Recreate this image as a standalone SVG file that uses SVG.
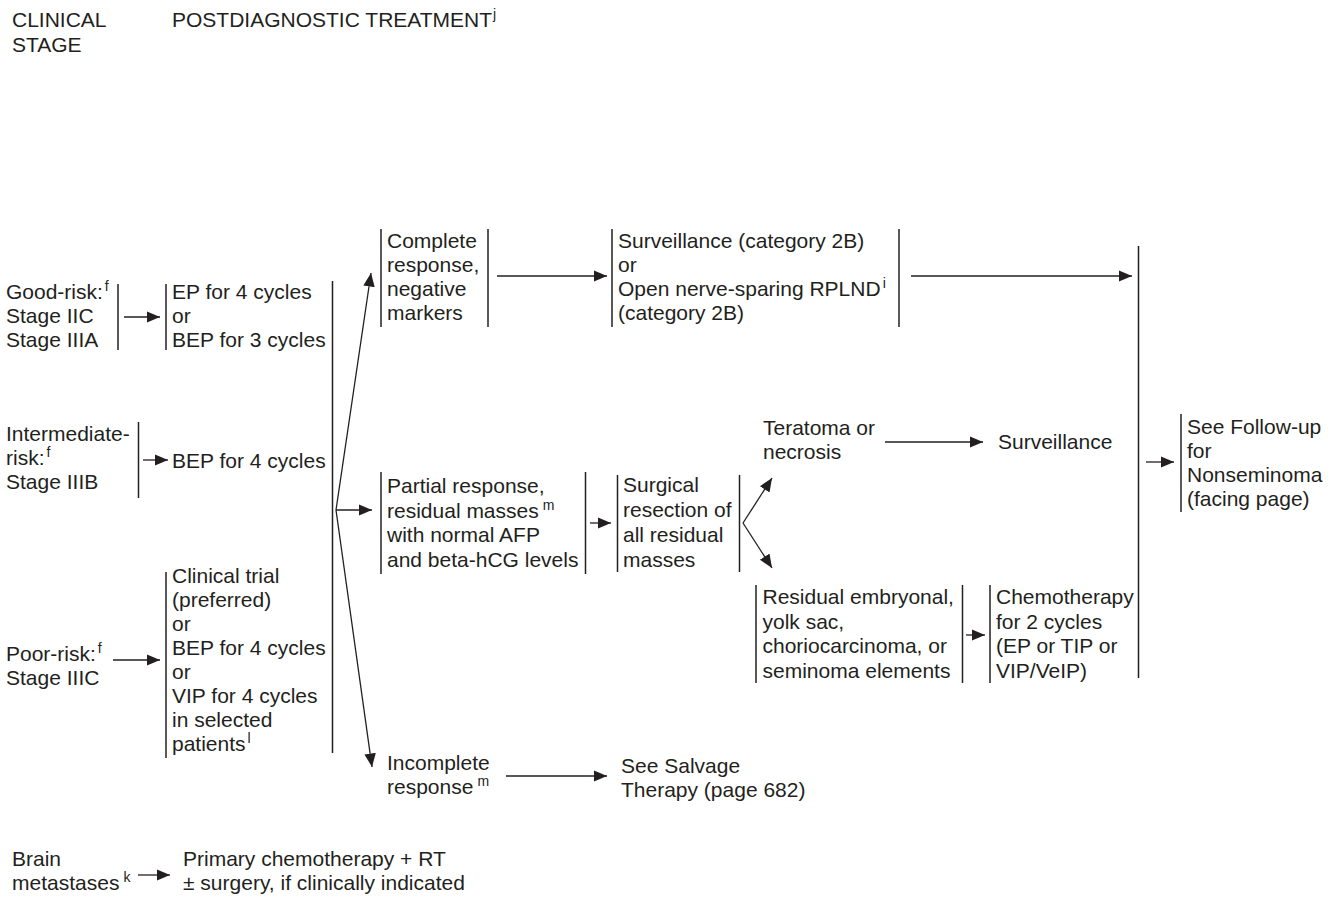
<svg xmlns="http://www.w3.org/2000/svg" width="1338" height="922" viewBox="0 0 1338 922">
<style>
text{font-family:"Liberation Sans",Arial,Helvetica,sans-serif;font-size:21px;fill:#231f20}
.sup{font-size:14px}
.bar{stroke:#231f20;stroke-width:1.5;fill:none}
.con line,.con polyline{stroke:#231f20;stroke-width:1.3;fill:none}
.arr{marker-end:url(#ah)}
</style>
<defs>
<marker id="ah" markerUnits="userSpaceOnUse" markerWidth="15" markerHeight="13" refX="13.5" refY="5.75" orient="auto">
<path d="M0,0 L13.5,5.75 L0,11.5 z" fill="#231f20"/>
</marker>
</defs>
<rect width="1338" height="922" fill="#fff"/>

<g id="header-stage"><text x="12" y="26.5">CLINICAL</text><text x="12" y="51.5">STAGE</text></g>
<g id="header-treatment"><text x="172" y="26.5">POSTDIAGNOSTIC TREATMENT<tspan class="sup" dx="1" dy="-8">j</tspan></text></g>

<g id="good-risk">
<text x="6" y="299">Good-risk:<tspan class="sup" dx="2" dy="-8">f</tspan></text>
<text x="6" y="323">Stage IIC</text>
<text x="6" y="347">Stage IIIA</text>
<line class="bar" x1="118" y1="284" x2="118" y2="350"/>
</g>
<g id="good-treatment">
<line class="bar" x1="166" y1="284" x2="166" y2="350"/>
<text x="172" y="299">EP for 4 cycles</text>
<text x="172" y="323">or</text>
<text x="172" y="347">BEP for 3 cycles</text>
</g>

<g id="intermediate-risk">
<text x="6" y="441">Intermediate-</text>
<text x="6" y="465">risk:<tspan class="sup" dx="2" dy="-8">f</tspan></text>
<text x="6" y="489">Stage IIIB</text>
<line class="bar" x1="138.5" y1="422" x2="138.5" y2="498"/>
</g>
<g id="intermediate-treatment"><text x="172" y="468">BEP for 4 cycles</text></g>

<g id="poor-risk">
<text x="6" y="661">Poor-risk:<tspan class="sup" dx="2" dy="-8">f</tspan></text>
<text x="6" y="685">Stage IIIC</text>
</g>
<g id="poor-treatment">
<line class="bar" x1="166" y1="572" x2="166" y2="758"/>
<text x="172" y="583">Clinical trial</text>
<text x="172" y="607">(preferred)</text>
<text x="172" y="631">or</text>
<text x="172" y="655">BEP for 4 cycles</text>
<text x="172" y="679">or</text>
<text x="172" y="703">VIP for 4 cycles</text>
<text x="172" y="727">in selected</text>
<text x="172" y="751">patients<tspan class="sup" dx="2" dy="-8">l</tspan></text>
</g>

<g id="complete-response">
<line class="bar" x1="381" y1="229" x2="381" y2="327"/>
<text x="387" y="248">Complete</text>
<text x="387" y="272">response,</text>
<text x="387" y="296">negative</text>
<text x="387" y="320">markers</text>
<line class="bar" x1="488" y1="229" x2="488" y2="327"/>
</g>
<g id="surveillance-or-rplnd">
<line class="bar" x1="612" y1="229" x2="612" y2="327"/>
<text x="618" y="248">Surveillance (category 2B)</text>
<text x="618" y="272">or</text>
<text x="618" y="296">Open nerve-sparing RPLND<tspan class="sup" dx="2" dy="-8">i</tspan></text>
<text x="618" y="320">(category 2B)</text>
<line class="bar" x1="899" y1="229" x2="899" y2="327"/>
</g>

<g id="partial-response">
<line class="bar" x1="381" y1="472" x2="381" y2="574"/>
<text x="387" y="493">Partial response,</text>
<text x="387" y="517.5">residual masses<tspan class="sup" dx="4" dy="-8">m</tspan></text>
<text x="387" y="542">with normal AFP</text>
<text x="387" y="566.5">and beta-hCG levels</text>
<line class="bar" x1="585.5" y1="472" x2="585.5" y2="574"/>
</g>
<g id="surgical-resection">
<line class="bar" x1="617.5" y1="475" x2="617.5" y2="572"/>
<text x="623" y="492">Surgical</text>
<text x="623" y="517">resection of</text>
<text x="623" y="542">all residual</text>
<text x="623" y="567">masses</text>
<line class="bar" x1="739.5" y1="475" x2="739.5" y2="572"/>
</g>
<g id="teratoma">
<text x="763" y="435">Teratoma or</text>
<text x="763" y="459">necrosis</text>
</g>
<g id="surveillance"><text x="998" y="449">Surveillance</text></g>
<g id="residual-elements">
<line class="bar" x1="756" y1="585" x2="756" y2="683"/>
<text x="762.5" y="604">Residual embryonal,</text>
<text x="762.5" y="628.5">yolk sac,</text>
<text x="762.5" y="653">choriocarcinoma, or</text>
<text x="762.5" y="677.5">seminoma elements</text>
<line class="bar" x1="962.5" y1="585" x2="962.5" y2="683"/>
</g>
<g id="chemotherapy">
<line class="bar" x1="990" y1="585" x2="990" y2="683"/>
<text x="996" y="604">Chemotherapy</text>
<text x="996" y="628.5">for 2 cycles</text>
<text x="996" y="653">(EP or TIP or</text>
<text x="996" y="677.5">VIP/VeIP)</text>
</g>
<g id="follow-up">
<line class="bar" x1="1181" y1="414" x2="1181" y2="512"/>
<text x="1187" y="434">See Follow-up</text>
<text x="1187" y="458">for</text>
<text x="1187" y="482">Nonseminoma</text>
<text x="1187" y="506">(facing page)</text>
</g>
<g id="incomplete-response">
<text x="387" y="770">Incomplete</text>
<text x="387" y="794">response<tspan class="sup" dx="4" dy="-8">m</tspan></text>
</g>
<g id="salvage">
<text x="621" y="773">See Salvage</text>
<text x="621" y="797">Therapy (page 682)</text>
</g>
<g id="brain-metastases">
<text x="12" y="866">Brain</text>
<text x="12" y="890">metastases<tspan class="sup" dx="4" dy="-8">k</tspan></text>
</g>
<g id="brain-treatment">
<text x="183" y="866">Primary chemotherapy + RT</text>
<text x="183" y="890">± surgery, if clinically indicated</text>
</g>

<g id="connectors" class="con">
<line class="arr" x1="124" y1="317" x2="160" y2="317"/>
<line class="arr" x1="143" y1="460" x2="168" y2="460"/>
<line class="arr" x1="113" y1="660" x2="160" y2="660"/>
<line x1="332.5" y1="281" x2="332.5" y2="753" style="stroke-width:1.5"/>
<line class="arr" x1="336" y1="510" x2="371" y2="273"/>
<line class="arr" x1="336" y1="510" x2="372" y2="510"/>
<line class="arr" x1="336" y1="510" x2="372" y2="767"/>
<line class="arr" x1="497" y1="276" x2="607" y2="276"/>
<line class="arr" x1="911" y1="276" x2="1132" y2="276"/>
<line x1="1138.5" y1="246" x2="1138.5" y2="678" style="stroke-width:1.5"/>
<line class="arr" x1="590" y1="523" x2="611" y2="523"/>
<line class="arr" x1="743" y1="523" x2="772" y2="478"/>
<line class="arr" x1="743" y1="523" x2="772" y2="568"/>
<line class="arr" x1="885" y1="442" x2="983" y2="442"/>
<line class="arr" x1="966" y1="635" x2="985" y2="635"/>
<line class="arr" x1="1146" y1="462" x2="1174" y2="462"/>
<line class="arr" x1="506" y1="776" x2="607" y2="776"/>
<line class="arr" x1="138" y1="875" x2="170" y2="875"/>
</g>
</svg>
